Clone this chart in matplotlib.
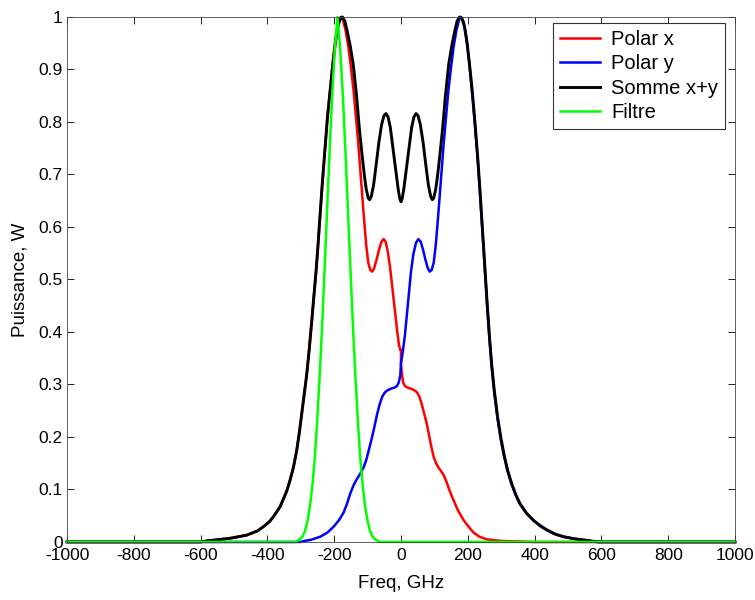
import numpy as np
import matplotlib
matplotlib.use('Agg')
import matplotlib.pyplot as plt
from matplotlib.ticker import FormatStrFormatter

plt.rcParams['font.family'] = ['Liberation Sans', 'DejaVu Sans']
plt.rcParams['axes.unicode_minus'] = False

# values (GHz, W)
f_x = [-1000, -600, -582, -540, -512, -462, -430, -412, -395, -382, -362, -342, -332,
       -322, -312, -304, -297, -290, -282, -275, -268, -261, -254, -248, -242, -236,
       -228, -220, -212, -204, -196, -188, -180, -174, -166, -158, -150, -142, -135,
       -128, -122, -116, -110, -104, -98, -92, -86, -80, -73, -66, -59, -52, -46, -40,
       -33, -26, -19, -12, -6, -2, 0, 0, 3, 7, 12, 20, 30, 40, 48, 55, 62, 70, 77, 85,
       92, 98, 105, 112, 120, 128, 136, 146, 157, 170, 187, 200, 217, 235, 257, 300,
       400, 1000]
p_x = [0, 0, 0.002, 0.005, 0.007, 0.013, 0.021, 0.029, 0.038, 0.048, 0.067, 0.097,
       0.118, 0.142, 0.175, 0.21, 0.245, 0.28, 0.32, 0.365, 0.413, 0.465, 0.515, 0.567,
       0.622, 0.677, 0.743, 0.81, 0.862, 0.915, 0.958, 0.988, 1.0, 0.995, 0.975, 0.945,
       0.905, 0.86, 0.81, 0.76, 0.71, 0.66, 0.61, 0.565, 0.532, 0.518, 0.515, 0.522,
       0.538, 0.556, 0.571, 0.577, 0.572, 0.555, 0.525, 0.485, 0.445, 0.405, 0.375,
       0.366, 0.366, 0.34, 0.318, 0.303, 0.297, 0.294, 0.292, 0.289, 0.285, 0.277,
       0.263, 0.243, 0.226, 0.2, 0.178, 0.162, 0.15, 0.142, 0.135, 0.127, 0.115, 0.097,
       0.08, 0.061, 0.042, 0.031, 0.018, 0.01, 0.005, 0.002, 0, 0]

f_y = [-1000, -300, -290, -270, -242, -220, -202, -185, -172, -162, -152, -142, -132,
       -122, -112, -104, -96, -88, -80, -72, -64, -56, -48, -40, -30, -20, -12, -6, -2,
       0, 3, 7, 12, 18, 24, 30, 37, 45, 52, 59, 66, 73, 80, 86, 92, 98, 104, 110, 116,
       122, 128, 135, 142, 150, 158, 166, 174, 180, 188, 196, 204, 212, 220, 228, 235,
       242, 249, 256, 263, 270, 278, 288, 298, 308, 318, 330, 343, 355, 375, 395, 415,
       435, 460, 485, 520, 557, 590, 1000]
p_y = [0, 0, 0.002, 0.004, 0.01, 0.018, 0.029, 0.042, 0.056, 0.072, 0.092, 0.108, 0.12,
       0.13, 0.142, 0.156, 0.176, 0.196, 0.218, 0.242, 0.262, 0.277, 0.285, 0.289, 0.292,
       0.294, 0.297, 0.305, 0.318, 0.341, 0.352, 0.37, 0.395, 0.435, 0.475, 0.515, 0.548,
       0.57, 0.577, 0.572, 0.557, 0.538, 0.522, 0.515, 0.518, 0.532, 0.565, 0.61, 0.66,
       0.71, 0.76, 0.81, 0.86, 0.905, 0.945, 0.975, 0.995, 1.0, 0.99, 0.96, 0.915, 0.862,
       0.805, 0.742, 0.68, 0.61, 0.54, 0.47, 0.403, 0.345, 0.292, 0.24, 0.198, 0.165,
       0.138, 0.112, 0.09, 0.074, 0.055, 0.042, 0.031, 0.023, 0.015, 0.01, 0.006, 0.003,
       0, 0]

f_sum = [-1000, -600, -582, -540, -512, -462, -430, -412, -395, -382, -362, -342, -332,
         -322, -312, -304, -297, -290, -282, -275, -268, -261, -254, -248, -242, -236,
         -228, -220, -212, -204, -196, -188, -180, -175, -168, -160, -152, -143, -133,
         -125, -117, -110, -104, -98, -94, -89, -82, -74, -66, -58, -51, -45, -39, -32,
         -24, -16, -9, -4, 0, 4, 9, 16, 24, 32, 39, 45, 51, 58, 66, 74, 82, 89, 94, 98,
         104, 110, 117, 125, 133, 143, 152, 160, 168, 175, 182, 190, 198, 206, 214, 222,
         230, 237, 244, 251, 258, 265, 272, 280, 290, 300, 310, 320, 332, 345, 357, 377,
         397, 417, 437, 462, 487, 520, 557, 590, 1000]
p_sum = [0, 0, 0.002, 0.005, 0.007, 0.013, 0.021, 0.029, 0.038, 0.048, 0.067, 0.097,
         0.118, 0.142, 0.175, 0.21, 0.245, 0.28, 0.32, 0.365, 0.415, 0.467, 0.518, 0.57,
         0.625, 0.68, 0.745, 0.81, 0.86, 0.91, 0.953, 0.984, 0.999, 1.0, 0.992, 0.97,
         0.945, 0.91, 0.85, 0.79, 0.74, 0.7, 0.672, 0.655, 0.652, 0.658, 0.68, 0.72,
         0.762, 0.795, 0.812, 0.816, 0.81, 0.79, 0.75, 0.71, 0.675, 0.655, 0.648, 0.655,
         0.675, 0.71, 0.75, 0.79, 0.81, 0.816, 0.812, 0.795, 0.762, 0.72, 0.68, 0.658,
         0.652, 0.655, 0.672, 0.7, 0.74, 0.79, 0.85, 0.91, 0.945, 0.97, 0.992, 1.0, 0.998,
         0.982, 0.95, 0.905, 0.855, 0.795, 0.73, 0.665, 0.595, 0.525, 0.455, 0.39, 0.335,
         0.285, 0.235, 0.195, 0.162, 0.135, 0.11, 0.088, 0.072, 0.054, 0.041, 0.031,
         0.023, 0.015, 0.01, 0.006, 0.003, 0, 0]

f_filt = [-1000, -318, -305, -295, -287, -280, -272, -265, -258, -251, -244, -237, -230,
          -222, -214, -206, -198, -190, -182, -174, -166, -158, -150, -143, -136, -129,
          -122, -115, -108, -100, -93, -85, -75, -62, 1000]
p_filt = [0, 0, 0.004, 0.01, 0.022, 0.04, 0.07, 0.11, 0.16, 0.23, 0.31, 0.4, 0.5, 0.62,
          0.74, 0.85, 0.94, 1.0, 0.94, 0.85, 0.74, 0.62, 0.5, 0.4, 0.31, 0.23, 0.16, 0.11,
          0.07, 0.04, 0.022, 0.01, 0.004, 0, 0]

fig = plt.figure(figsize=(7.55, 6.0), dpi=100)
ax = fig.add_axes([0.0887, 0.0967, 0.8848, 0.875])

ax.plot(f_x, p_x, color='#ff0000', lw=1.8, label='Polar x', clip_on=False)
ax.plot(f_y, p_y, color='#0000ff', lw=1.8, label='Polar y', clip_on=False)
ax.plot(f_sum, p_sum, color='black', lw=2.1, label='Somme x+y', clip_on=False)
ax.plot(f_filt, p_filt, color='#00ff00', lw=1.8, label='Filtre', clip_on=False)

ax.set_xlim(-1000, 1000)
ax.set_ylim(0, 1)
ax.set_xticks(np.arange(-1000, 1001, 200))
ax.set_yticks(np.arange(0, 1.01, 0.1))
ax.yaxis.set_major_formatter(FormatStrFormatter('%g'))
ax.tick_params(direction='in', length=5, width=0.6, labelsize=12.5, top=True, right=True,
               labeltop=False, labelright=False)
ax.tick_params(axis='x', pad=4)
ax.tick_params(axis='y', pad=3)
for s in ax.spines.values():
    s.set_linewidth(0.6)
    s.set_color('#444444')

ax.set_xlabel('Freq, GHz', fontsize=13.5, labelpad=9)
ax.set_ylabel('Puissance, W', fontsize=13.5, labelpad=7)

leg = ax.legend(loc='upper right', bbox_to_anchor=(725 / 755, 1 - 23 / 600),
                bbox_transform=fig.transFigure, borderaxespad=0, fontsize=14.5,
                fancybox=False, framealpha=1, edgecolor='#333333', handlelength=2.0,
                handletextpad=0.55, labelspacing=0.27, borderpad=0.35)
leg.get_frame().set_linewidth(0.8)

fig.savefig('out.png', dpi=100)
